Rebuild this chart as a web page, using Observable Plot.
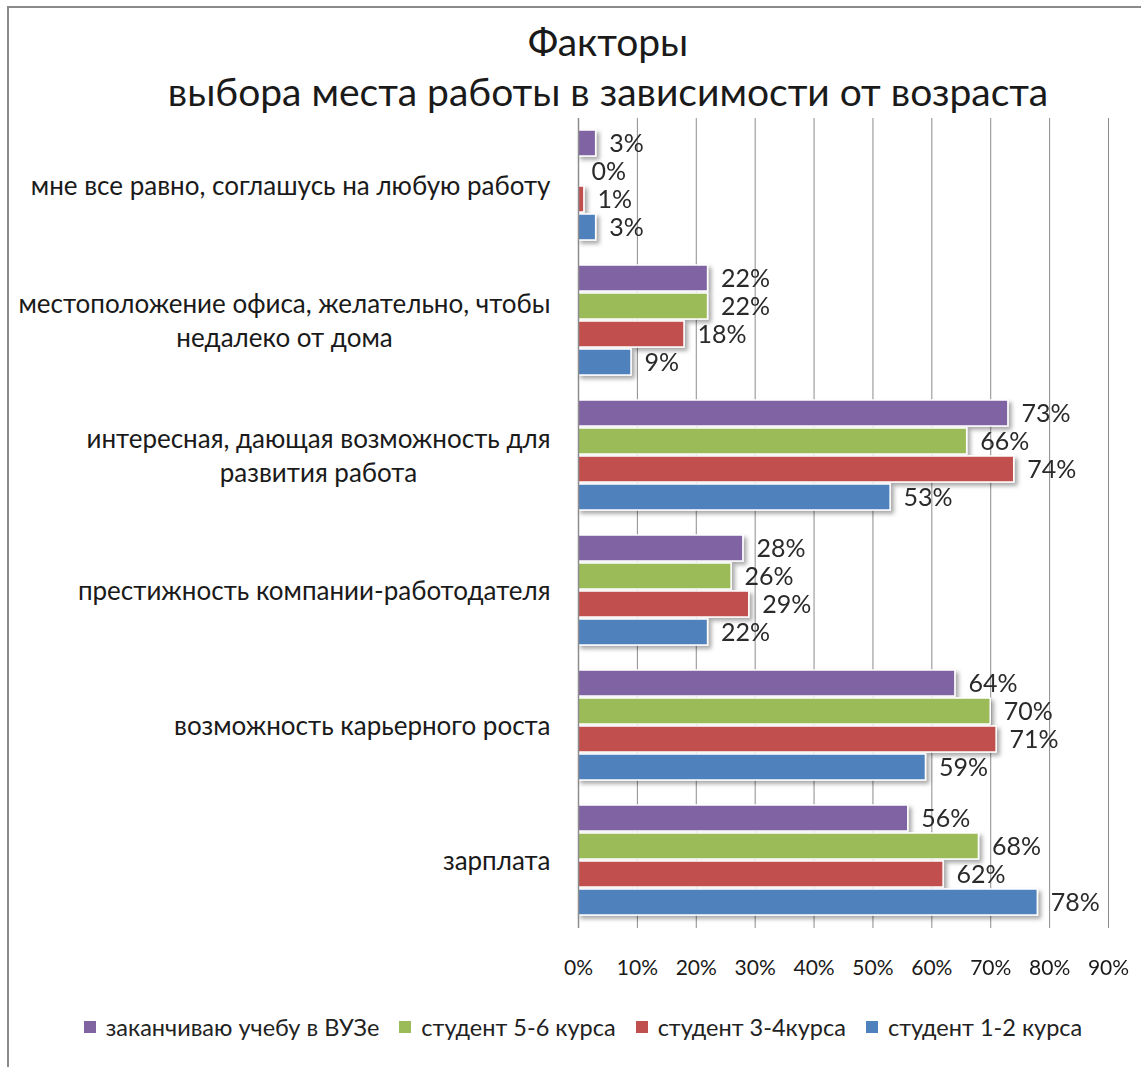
<!DOCTYPE html>
<html>
<head>
<meta charset="utf-8">
<script src="https://cdn.jsdelivr.net/npm/d3@7"></script>
<script src="https://cdn.jsdelivr.net/npm/@observablehq/plot@0.6"></script>
<style>
  body { margin: 0; background: #fff; font-family: Lato, "Open Sans", sans-serif; }
  #wrap { position: relative; width: 1141px; height: 1067px; overflow: hidden; background: #fff; }
  #frame { position: absolute; left: 7px; top: 6px; width: 1400px; height: 1400px; border: 2px solid #8a8a8a; box-sizing: border-box; }
  #title { position: absolute; left: 0; top: 16px; width: 1216px; text-align: center; font-size: 39px; line-height: 50px; color: #1a1a1a; }
  #chart { position: absolute; left: 0; top: 106px; }
  #legend { position: absolute; left: 0; top: 1013px; width: 1166px; display: flex; justify-content: center; gap: 20px; font-size: 23.5px; color: #222; }
  .item { display: flex; align-items: center; gap: 10px; }
  .sw { width: 12px; height: 12px; display: inline-block; }
</style>
</head>
<body>
<div id="wrap">
  <div id="frame"></div>
  <div id="title">Факторы<br>выбора места работы в зависимости от возраста</div>
  <div id="chart"></div>
  <div id="legend"></div>
</div>
<script>
// ---- data ----
const categories = [
  "мне все равно, соглашусь на любую работу",
  "местоположение офиса, желательно, чтобы\nнедалеко от дома",
  "интересная, дающая возможность для\nразвития работа",
  "престижность компании-работодателя",
  "возможность карьерного роста",
  "зарплата"
];
const seriesNames = ["заканчиваю учебу в ВУЗе", "студент 5-6 курса", "студент 3-4курса", "студент 1-2 курса"];
const finishing = [3, 22, 73, 28, 64, 56];
const year56 = [0, 22, 66, 26, 70, 68];
const year34 = [1, 18, 74, 29, 71, 62];
const year12 = [3, 9, 53, 22, 59, 78];
const xTicks = [0, 10, 20, 30, 40, 50, 60, 70, 80, 90];
const colors = ["#8064A2", "#9BBB59", "#C0504D", "#4F81BD"];

const seriesValues = [finishing, year56, year34, year12];
const rows = [];
categories.forEach((c, i) => {
  seriesNames.forEach((s, j) => rows.push({cat: c, series: s, value: seriesValues[j][i]}));
});
const lastCat = categories[categories.length - 1];

const plot = Plot.plot({
  width: 1141,
  height: 890,
  marginTop: 12,
  marginBottom: 68,
  marginLeft: 578,
  marginRight: 33,
  style: {fontFamily: "Lato, 'Open Sans', sans-serif", background: "transparent"},
  x: {domain: [0, 90], axis: null},
  y: {domain: seriesNames, axis: null, paddingInner: 0.07, paddingOuter: 0.0},
  fy: {domain: categories, paddingInner: 0.176, paddingOuter: 0.088, label: null},
  color: {domain: seriesNames, range: colors},
  marks: [
    Plot.ruleX(xTicks, {x: d => d, stroke: "#8c8c8c", strokeWidth: 1, insetTop: -12, insetBottom: -12}),
    Plot.barX(rows, {x: "value", y: "series", fy: "cat", fill: "series", stroke: "white", strokeWidth: 1.5}),
    Plot.text(rows, {x: "value", y: "series", fy: "cat", text: d => d.value + "%", textAnchor: "start", dx: 13, fontSize: 25, fill: "#2a2a2a"}),
    Plot.ruleX([0], {stroke: "#8c8c8c", strokeWidth: 1.5, insetTop: -12, insetBottom: -12}),
    Plot.text(xTicks, {x: d => d, fy: () => lastCat, text: d => d + "%", frameAnchor: "bottom", dy: 58, fontSize: 21, fill: "#1a1a1a"}),
    Plot.axisFy({anchor: "left", tickSize: 0, tickPadding: 28, fontSize: 26, lineHeight: 1.31, label: null, fill: "#1a1a1a", dy: -2})
  ]
});
document.getElementById("chart").appendChild(plot);

// drop shadow for bars
const ns = "http://www.w3.org/2000/svg";
const defs = document.createElementNS(ns, "defs");
defs.innerHTML = '<filter id="sh" x="-10%" y="-20%" width="130%" height="160%"><feDropShadow dx="3" dy="3" stdDeviation="2" flood-color="#000" flood-opacity="0.35"/></filter>';
plot.insertBefore(defs, plot.firstChild);
plot.querySelectorAll('g[aria-label="bar"]').forEach(g => g.setAttribute("filter", "url(#sh)"));

// center multi-line category labels within their block
plot.querySelectorAll('g[aria-label="fy-axis tick label"] text').forEach(t => {
  if (t.querySelectorAll("tspan").length > 1) {
    const w = t.getBBox().width;
    t.style.textAnchor = "middle";
    const tr = t.getAttribute("transform") || "";
    t.setAttribute("transform", tr + ` translate(${-w / 2},0)`);
  }
});

// legend
const leg = document.getElementById("legend");
seriesNames.forEach((s, i) => {
  const it = document.createElement("div");
  it.className = "item";
  it.innerHTML = `<span class="sw" style="background:${colors[i]}"></span><span>${s}</span>`;
  leg.appendChild(it);
});
</script>
</body>
</html>
